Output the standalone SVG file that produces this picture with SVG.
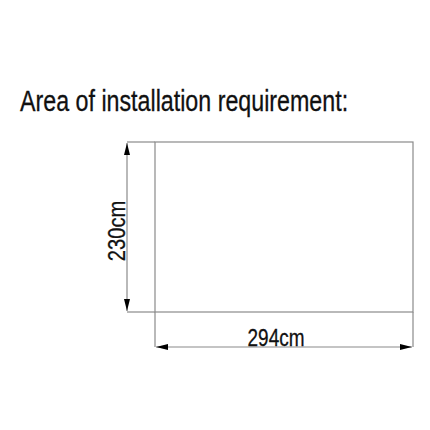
<svg xmlns="http://www.w3.org/2000/svg" width="430" height="430" viewBox="0 0 430 430">
<style>
.t{font-family:"Liberation Sans",Arial,sans-serif;font-size:24px;fill:#111;stroke:#111;stroke-width:0.3}
.h{font-size:30px}
.ln{stroke:#8a8a8a;stroke-width:1.2;fill:none}
.dim{stroke:#8a8a8a;stroke-width:1.2;fill:none;marker-start:url(#ah);marker-end:url(#ah)}
</style>
<defs>
<marker id="ah" viewBox="0 0 12 6" refX="12" refY="3" markerWidth="12" markerHeight="6" markerUnits="userSpaceOnUse" orient="auto-start-reverse">
<path d="M0,0 L12,3 L0,6 Z" fill="#000"/>
</marker>
</defs>
<rect width="430" height="430" fill="#fff"/>
<text class="t h" transform="translate(20,111) scale(0.775,1)" x="0" y="0">Area of installation requirement:</text>
<g id="area">
<rect class="ln" x="155" y="142" width="258" height="170"/>
</g>
<g id="connectors">
<line class="ln" x1="127" y1="142" x2="155" y2="142"/>
<line class="ln" x1="127" y1="312" x2="155" y2="312"/>
<line class="ln" x1="155" y1="312" x2="155" y2="347"/>
<line class="ln" x1="413" y1="312" x2="413" y2="347"/>
<line class="dim" x1="127" y1="143" x2="127" y2="311"/>
<line class="dim" x1="156" y1="347" x2="412" y2="347"/>
</g>
<g id="labels">
<text class="t" transform="translate(276,346) scale(0.79,1)" x="0" y="0" text-anchor="middle">294cm</text>
<text class="t" transform="translate(125,231) rotate(-90) scale(0.84,1)" x="0" y="0" text-anchor="middle">230cm</text>
</g>
</svg>
